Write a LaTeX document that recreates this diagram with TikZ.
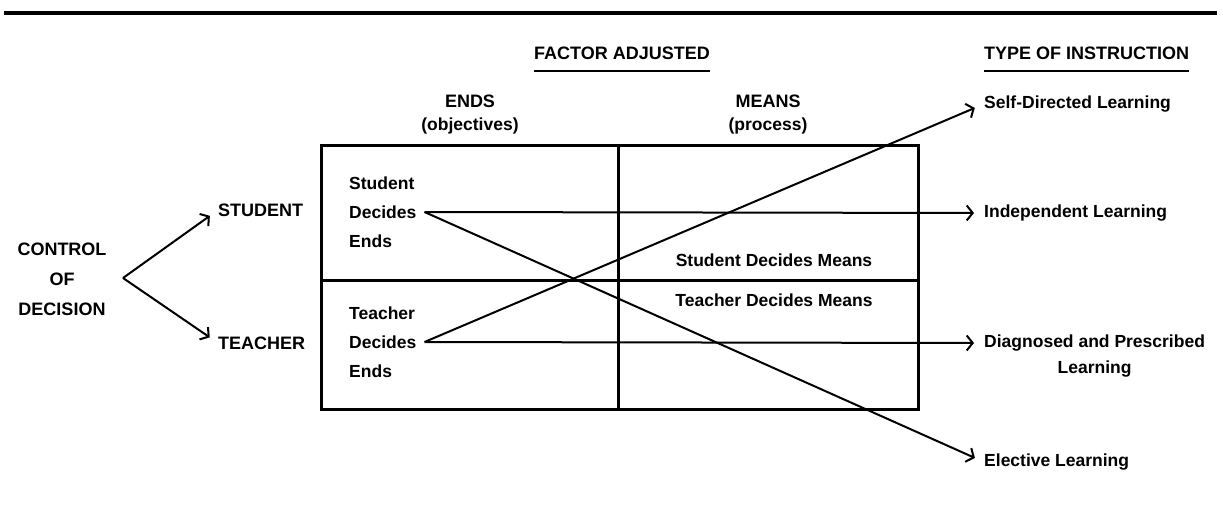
\documentclass[tikz,border=0pt]{standalone}
\usepackage{fontspec}
\setmainfont{Liberation Sans}
\usetikzlibrary{arrows.meta,positioning}

\tikzset{
  lbl/.style={font=\bfseries\fontsize{17.5}{29}\selectfont, inner sep=0pt},
  caps/.style={font=\bfseries\fontsize{18}{30}\selectfont, inner sep=0pt},
  boxline/.style={line width=3pt},
  flow/.style={line width=2pt, shorten >=10pt,
    -{Straight Barb[length=6pt,width=15pt,line width=2pt]}},
}

\begin{document}
\begin{tikzpicture}[x=1pt,y=-1pt]
\useasboundingbox (0,0) rectangle (1223,522);

% rule across the top
\draw[line width=3.5pt] (4,13) -- (1217,13);

% headings
\node[caps] (fact) at (622,53) {FACTOR ADJUSTED};
\node[caps,anchor=west] (type) at (984,53) {TYPE OF INSTRUCTION};
\draw[line width=1.8pt] ([yshift=-11.5pt]fact.base west) -- ([yshift=-11.5pt]fact.base east);
\draw[line width=1.8pt] ([yshift=-11.5pt]type.base west) -- ([yshift=-11.5pt]type.base east);

\node[caps] (ends) at (470,101) {ENDS};
\node[lbl] (obj) at (470,126) {(objectives)};
\node[caps] (means) at (768,101) {MEANS};
\node[lbl] (proc) at (768,126) {(process)};

% the 2x2 table
\draw[boxline] (321,145) rectangle (918,409);
\draw[boxline] (618,145) -- (618,409);
\draw[boxline] (321,280) -- (918,280);

\node[lbl,align=left,anchor=west,inner xsep=8pt] (sEnds) at (341,212) {Student\\Decides\\Ends};
\node[lbl,align=left,anchor=west,inner xsep=8pt] (tEnds) at (341,342) {Teacher\\Decides\\Ends};
\node[lbl] (sMeans) at (774,260) {Student Decides Means};
\node[lbl] (tMeans) at (774,300) {Teacher Decides Means};

% who decides
\node[caps,align=center] (ctrl) at (62,279) {CONTROL\\OF\\DECISION};
\coordinate (fork) at (123,278);
\node[caps,anchor=west] (stu) at (218,210) {STUDENT};
\node[caps,anchor=west] (tea) at (218,343) {TEACHER};
\draw[flow] (fork) -- (stu.west);
\draw[flow] (fork) -- (tea.west);

% kinds of instruction
\node[lbl,anchor=west] (self) at (984,104) {Self-Directed Learning};
\node[lbl,anchor=west] (indep) at (984,213) {Independent Learning};
\node[lbl,anchor=west] (diag) at (984,343) {Diagnosed and Prescribed};
\node[lbl,below=9pt of diag] (diagL) {Learning};
\node[lbl,anchor=west] (elect) at (984,462) {Elective Learning};

\draw[flow] (sEnds.east) -- (indep.west);
\draw[flow] (sEnds.east) -- (elect.west);
\draw[flow] (tEnds.east) -- (diag.west);
\draw[flow] (tEnds.east) -- (self.west);
\end{tikzpicture}
\end{document}
